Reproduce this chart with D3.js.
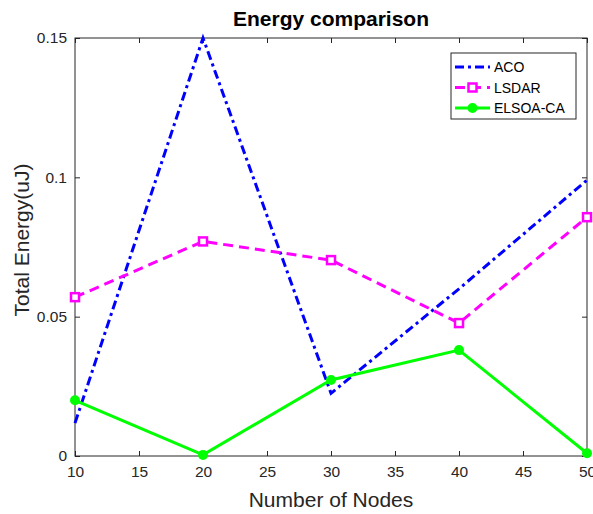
<!DOCTYPE html>
<html>
<head>
<meta charset="utf-8">
<script src="https://d3js.org/d3.v7.min.js"></script>
<style>
  body { margin: 0; background: #fff; }
  svg { font-family: "Liberation Sans", Arial, sans-serif; }
</style>
</head>
<body>
<div id="chart"></div>
<script>
// data
const nodes = [10, 20, 30, 40, 50];
const aco = [0.0118, 0.15, 0.0225, 0.060, 0.099];
const lsdar = [0.057, 0.077, 0.0703, 0.0477, 0.0857];
const elsoa = [0.020, 0.0004, 0.0273, 0.038, 0.001];
const xTicks = [10, 15, 20, 25, 30, 35, 40, 45, 50];
const yTicks = [0, 0.05, 0.1, 0.15];

const width = 593, height = 514;
const margin = {top: 38, right: 6, bottom: 58, left: 75};
const innerW = width - margin.left - margin.right;
const innerH = height - margin.top - margin.bottom;

const svg = d3.select("#chart").append("svg")
    .attr("width", width)
    .attr("height", height);

const g = svg.append("g")
    .attr("transform", `translate(${margin.left},${margin.top})`);

const x = d3.scaleLinear().domain([10, 50]).range([0, innerW]);
const y = d3.scaleLinear().domain([0, 0.15]).range([innerH, 0]);

const fmtY = d => d === 0 ? "0" : String(d);

// axes (inward ticks, box style)
const styleAxis = sel => {
    sel.select(".domain").remove();
    sel.selectAll("line").attr("stroke", "#262626");
    sel.selectAll("text").attr("fill", "#262626").style("font-size", "15.5px");
};

g.append("g")
    .attr("transform", `translate(0,${innerH})`)
    .call(d3.axisBottom(x).tickValues(xTicks).tickSizeInner(-5).tickSizeOuter(0).tickPadding(10))
    .call(styleAxis);

g.append("g")
    .call(d3.axisTop(x).tickValues(xTicks).tickSizeInner(-5).tickSizeOuter(0).tickFormat(""))
    .call(styleAxis);

g.append("g")
    .call(d3.axisLeft(y).tickValues(yTicks).tickSizeInner(-5).tickSizeOuter(0).tickPadding(8).tickFormat(fmtY))
    .call(styleAxis);

g.append("g")
    .attr("transform", `translate(${innerW},0)`)
    .call(d3.axisRight(y).tickValues(yTicks).tickSizeInner(-5).tickSizeOuter(0).tickFormat(""))
    .call(styleAxis);

g.append("rect")
    .attr("width", innerW)
    .attr("height", innerH)
    .attr("fill", "none")
    .attr("stroke", "#262626")
    .attr("stroke-width", 1);

const series = [
    {name: "ACO", values: aco, color: "#0000ff", dash: "9,4,3,4", marker: null},
    {name: "LSDAR", values: lsdar, color: "#ff00ff", dash: "10,6", marker: "square"},
    {name: "ELSOA-CA", values: elsoa, color: "#00ff00", dash: null, marker: "circle"}
];

const line = d3.line()
    .x(d => x(d[0]))
    .y(d => y(d[1]));

function drawMarker(sel, s, cx, cy) {
    if (s.marker === "square") {
        sel.append("rect")
            .attr("x", cx - 4).attr("y", cy - 4)
            .attr("width", 8).attr("height", 8)
            .attr("fill", "#fff")
            .attr("stroke", s.color)
            .attr("stroke-width", 2.5);
    } else if (s.marker === "circle") {
        sel.append("circle")
            .attr("cx", cx).attr("cy", cy)
            .attr("r", 5)
            .attr("fill", s.color);
    }
}

series.forEach(s => {
    const pts = nodes.map((n, i) => [n, s.values[i]]);
    g.append("path")
        .datum(pts)
        .attr("fill", "none")
        .attr("stroke", s.color)
        .attr("stroke-width", 3)
        .attr("stroke-dasharray", s.dash)
        .attr("d", line);
    if (s.marker) {
        const mg = g.append("g");
        pts.forEach(p => drawMarker(mg, s, x(p[0]), y(p[1])));
    }
});

// title and axis labels
svg.append("text")
    .attr("x", margin.left + innerW / 2)
    .attr("y", 26)
    .attr("text-anchor", "middle")
    .style("font-size", "21px")
    .style("font-weight", "bold")
    .attr("fill", "#000")
    .text("Energy comparison");

svg.append("text")
    .attr("x", margin.left + innerW / 2)
    .attr("y", 507)
    .attr("text-anchor", "middle")
    .style("font-size", "21px")
    .attr("fill", "#262626")
    .text("Number of Nodes");

svg.append("text")
    .attr("transform", `translate(29,240) rotate(-90)`)
    .attr("text-anchor", "middle")
    .style("font-size", "21px")
    .attr("fill", "#262626")
    .text("Total Energy(uJ)");

// legend
const legend = svg.append("g")
    .attr("transform", "translate(451,53)");

legend.append("rect")
    .attr("width", 125)
    .attr("height", 66)
    .attr("fill", "#fff")
    .attr("stroke", "#262626")
    .attr("stroke-width", 1);

series.forEach((s, i) => {
    const row = legend.append("g")
        .attr("transform", `translate(0,${14 + i * 20.5})`);
    row.append("line")
        .attr("x1", 4).attr("x2", 39)
        .attr("stroke", s.color)
        .attr("stroke-width", 3)
        .attr("stroke-dasharray", s.dash);
    if (s.marker) drawMarker(row, s, 21.5, 0);
    row.append("text")
        .attr("x", 43)
        .attr("y", 5)
        .style("font-size", "14px")
        .attr("fill", "#000")
        .text(s.name);
});
</script>
</body>
</html>
